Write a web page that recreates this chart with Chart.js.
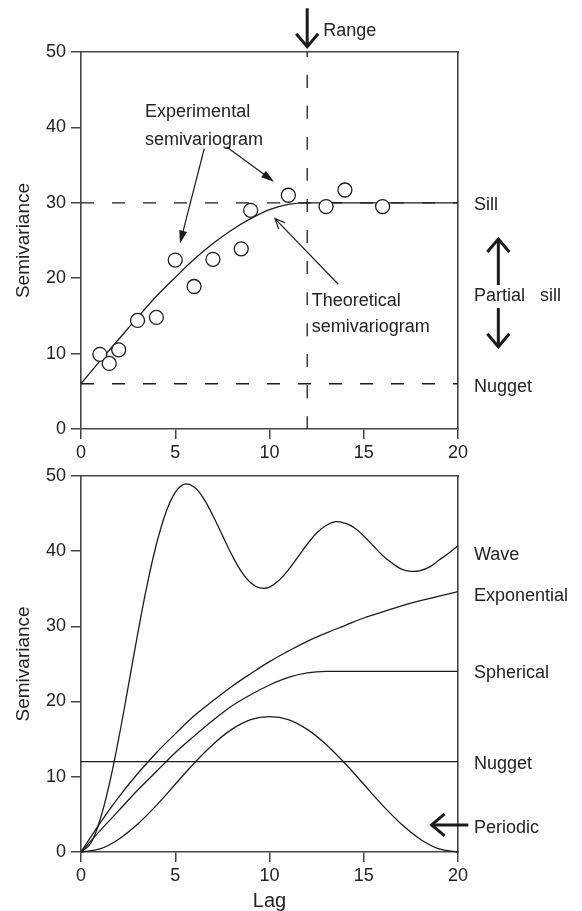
<!DOCTYPE html>
<html>
<head>
<meta charset="utf-8">
<script src="https://cdn.jsdelivr.net/npm/chart.js@4/dist/chart.umd.min.js"></script>
<style>
  body { margin: 0; background: #fff; }
  canvas { position: absolute; left: 0; }
  #topChart { top: 0; }
  #bottomChart { top: 460px; }
</style>
</head>
<body>
<canvas id="topChart" width="582" height="460"></canvas>
<canvas id="bottomChart" width="582" height="451"></canvas>
<script>
// --- oberes Diagramm: experimentelles + theoretisches Semivariogramm ---
const expLag = [1, 1.5, 2, 3, 4, 5, 6, 7, 8.5, 9, 11, 13, 14, 16];
const expGamma = [9.9, 8.7, 10.5, 14.4, 14.8, 22.4, 18.9, 22.5, 23.9, 29.0, 31.0, 29.5, 31.7, 29.5];

const theoLag = [0, 1, 2, 3, 4, 5, 6, 7, 8, 9, 10, 11, 12, 20];
const theoGamma = [6, 9.0, 11.9, 14.8, 17.6, 20.1, 22.5, 24.6, 26.4, 27.9, 29.1, 29.8, 30, 30];

const sillValue = 30;
const nuggetValue = 6;
const rangeValue = 12;

// --- unteres Diagramm: Modelltypen ---
const halfLag = [0, 0.5, 1, 1.5, 2, 2.5, 3, 3.5, 4, 4.5, 5, 5.5, 6, 6.5, 7, 7.5, 8, 8.5, 9, 9.5, 10,
                 10.5, 11, 11.5, 12, 12.5, 13, 13.5, 14, 14.5, 15, 15.5, 16, 16.5, 17, 17.5, 18, 18.5, 19, 19.5, 20];
const waveGamma = [0, 1.1, 4.2, 9.0, 15.1, 21.9, 28.9, 35.4, 40.9, 45.1, 47.8, 48.9, 48.5, 47.0, 44.7, 42.1, 39.5, 37.3, 35.8, 35.1, 35.2,
                   36.1, 37.5, 39.2, 40.9, 42.4, 43.4, 43.9, 43.7, 43.1, 42.0, 40.7, 39.4, 38.4, 37.6, 37.3, 37.4, 37.9, 38.8, 39.7, 40.7];

const lag = [0, 1, 2, 3, 4, 5, 6, 7, 8, 9, 10, 11, 12, 13, 14, 15, 16, 17, 18, 19, 20];
const expoGamma = [0, 3.8, 7.3, 10.4, 13.2, 15.7, 18.1, 20.1, 22.0, 23.7, 25.3, 26.7, 28.0, 29.1, 30.1, 31.1, 31.9, 32.7, 33.4, 34.0, 34.6];
const sphGamma = [0, 2.8, 5.5, 8.2, 10.7, 13.2, 15.4, 17.5, 19.4, 20.9, 22.2, 23.2, 23.8, 24, 24, 24, 24, 24, 24, 24, 24];
const periodicGamma = [0, 0.4, 1.7, 3.7, 6.2, 9, 11.8, 14.3, 16.3, 17.6, 18, 17.6, 16.3, 14.3, 11.8, 9, 6.2, 3.7, 1.7, 0.4, 0];
const nuggetLag = [0, 20];
const nuggetGamma = [12, 12];

const xTicks = [0, 5, 10, 15, 20];
const yTicks = [0, 10, 20, 30, 40, 50];

const ink = '#1c1c1c';
const axisCol = '#444';

Chart.defaults.font.family = '"Liberation Sans", Arial, Helvetica, sans-serif';
Chart.defaults.font.size = 18;
Chart.defaults.color = '#222';

function toPoints(xs, ys) {
  return xs.map((x, i) => ({ x: x, y: ys[i] }));
}

function lineSet(xs, ys, dash, smooth) {
  const ds = {
    data: toPoints(xs, ys),
    showLine: true,
    borderColor: ink,
    borderWidth: 1.3,
    borderDash: dash || [],
    pointRadius: 0,
    clip: false
  };
  if (smooth === 'tension') {
    ds.tension = 0.4;
  } else {
    ds.cubicInterpolationMode = 'monotone';
  }
  return ds;
}

// Pfeil zeichnen
function drawArrow(ctx, x1, y1, x2, y2, style) {
  const ang = Math.atan2(y2 - y1, x2 - x1);
  let len = 10, half = 4.5, lw = 1.2, filled = false;
  if (style === 'bold') { len = 13; half = 11; lw = 3; }
  if (style === 'fill') { len = 13; half = 4; filled = true; }
  ctx.save();
  ctx.strokeStyle = ink;
  ctx.fillStyle = ink;
  ctx.lineWidth = lw;
  ctx.lineCap = 'butt';
  ctx.beginPath();
  ctx.moveTo(x1, y1);
  ctx.lineTo(x2 - (filled ? len * 0.8 : lw / 2) * Math.cos(ang), y2 - (filled ? len * 0.8 : lw / 2) * Math.sin(ang));
  ctx.stroke();
  const bx = x2 - len * Math.cos(ang), by = y2 - len * Math.sin(ang);
  const nx = -Math.sin(ang) * half, ny = Math.cos(ang) * half;
  ctx.beginPath();
  ctx.moveTo(bx + nx, by + ny);
  ctx.lineTo(x2, y2);
  ctx.lineTo(bx - nx, by - ny);
  if (filled) { ctx.closePath(); ctx.fill(); } else { ctx.lineJoin = 'miter'; ctx.stroke(); }
  ctx.restore();
}

const notesPlugin = {
  id: 'notes',
  afterDraw(chart, args, opts) {
    const ctx = chart.ctx;
    const px = v => chart.scales.x.getPixelForValue(v);
    const py = v => chart.scales.y.getPixelForValue(v);
    ctx.save();
    ctx.fillStyle = '#222';
    ctx.font = '18px "Liberation Sans", Arial, sans-serif';
    ctx.textAlign = 'left';
    ctx.textBaseline = 'alphabetic';
    (opts.texts || []).forEach(t => {
      ctx.fillText(t.text, px(t.x) + (t.dx || 0), py(t.y) + (t.dy || 0));
    });
    (opts.arrows || []).forEach(a => {
      drawArrow(ctx, px(a.x1), py(a.y1), px(a.x2), py(a.y2), a.style);
    });
    ctx.restore();
  }
};

function axisX(height, title) {
  return {
    type: 'linear', min: 0, max: 20,
    afterBuildTicks: s => { s.ticks = xTicks.map(v => ({ value: v })); },
    ticks: { padding: 3, color: '#222' },
    grid: { drawOnChartArea: false, tickLength: 10, color: axisCol, lineWidth: 1.5 },
    border: { color: axisCol, width: 1.6 },
    title: title ? { display: true, text: title, font: { size: 20 }, padding: { top: 0, bottom: -2 } } : { display: false },
    afterFit: s => { s.height = height; }
  };
}

function axisY() {
  return {
    type: 'linear', min: 0, max: 50,
    afterBuildTicks: s => { s.ticks = yTicks.map(v => ({ value: v })); },
    ticks: { padding: 5, color: '#222' },
    grid: { drawOnChartArea: false, tickLength: 10, color: axisCol, lineWidth: 1.5 },
    border: { color: axisCol, width: 1.6 },
    title: { display: true, text: 'Semivariance', font: { size: 19 }, padding: { top: 12, bottom: 0 } },
    afterFit: s => { s.width = 81; }
  };
}

// Rahmen oben/rechts
const frameX = {
  type: 'linear', position: 'top', min: 0, max: 20,
  ticks: { display: false }, grid: { display: false },
  border: { color: axisCol, width: 1.6 },
  afterFit: s => { s.height = 0; }
};
const frameY = {
  type: 'linear', position: 'right', min: 0, max: 50,
  ticks: { display: false }, grid: { display: false },
  border: { color: axisCol, width: 1.6 },
  afterFit: s => { s.width = 0; }
};

const dash = [13, 18];

new Chart(document.getElementById('topChart'), {
  type: 'scatter',
  data: {
    datasets: [
      {
        data: toPoints(expLag, expGamma),
        pointRadius: 7,
        pointBorderWidth: 1.3,
        pointBorderColor: ink,
        pointBackgroundColor: '#fff',
        showLine: false
      },
      lineSet(theoLag, theoGamma),
      lineSet([0, 20], [sillValue, sillValue], dash),
      lineSet([0, 20], [nuggetValue, nuggetValue], dash),
      lineSet([rangeValue, rangeValue], [0, 50], dash)
    ]
  },
  options: {
    responsive: false,
    animation: false,
    devicePixelRatio: 1,
    layout: { padding: { left: 0, right: 124, top: 52, bottom: 0 } },
    plugins: {
      legend: { display: false },
      tooltip: { enabled: false },
      notes: {
        texts: [
          { text: 'Range', x: rangeValue, y: 50, dx: 16, dy: -16 },
          { text: 'Experimental', x: 3.4, y: 41.4 },
          { text: 'semivariogram', x: 3.4, y: 37.7 },
          { text: 'Theoretical', x: 12.24, y: 16.3 },
          { text: 'semivariogram', x: 12.24, y: 12.8 },
          { text: 'Sill', x: 20, y: sillValue, dx: 16, dy: 7 },
          { text: 'Partial   sill', x: 20, y: 17.0, dx: 16 },
          { text: 'Nugget', x: 20, y: nuggetValue, dx: 16, dy: 8 }
        ],
        arrows: [
          { x1: rangeValue, y1: 55.8, x2: rangeValue, y2: 50.7, style: 'bold' },
          { x1: 6.54, y1: 37.2, x2: 5.25, y2: 24.6, style: 'fill' },
          { x1: 7.73, y1: 37.4, x2: 10.24, y2: 32.8, style: 'fill' },
          { x1: 13.65, y1: 19.2, x2: 10.29, y2: 27.9, style: 'open' },
          { x1: 22.14, y1: 19.1, x2: 22.14, y2: 25.2, style: 'bold' },
          { x1: 22.14, y1: 16.05, x2: 22.14, y2: 10.9, style: 'bold' }
        ]
      }
    },
    scales: { x: axisX(31), y: axisY(), x2: frameX, y2: frameY }
  },
  plugins: [notesPlugin]
});

new Chart(document.getElementById('bottomChart'), {
  type: 'scatter',
  data: {
    datasets: [
      lineSet(halfLag, waveGamma, null, 'tension'),
      lineSet(lag, expoGamma, null, 'tension'),
      lineSet(lag, sphGamma),
      lineSet(nuggetLag, nuggetGamma),
      lineSet(lag, periodicGamma, null, 'tension')
    ]
  },
  options: {
    responsive: false,
    animation: false,
    devicePixelRatio: 1,
    layout: { padding: { left: 0, right: 124, top: 14, bottom: 0 } },
    plugins: {
      legend: { display: false },
      tooltip: { enabled: false },
      notes: {
        texts: [
          { text: 'Wave', x: 20, y: 39.7, dx: 16, dy: 7 },
          { text: 'Exponential', x: 20, y: 34.3, dx: 16, dy: 7 },
          { text: 'Spherical', x: 20, y: 24, dx: 16, dy: 7 },
          { text: 'Nugget', x: 20, y: 12, dx: 16, dy: 7 },
          { text: 'Periodic', x: 20, y: 3.4, dx: 16, dy: 7 }
        ],
        arrows: [
          { x1: 20.55, y1: 3.6, x2: 18.6, y2: 3.6, style: 'bold' }
        ]
      }
    },
    scales: { x: axisX(59, 'Lag'), y: axisY(), x2: frameX, y2: frameY }
  },
  plugins: [notesPlugin]
});
</script>
</body>
</html>
